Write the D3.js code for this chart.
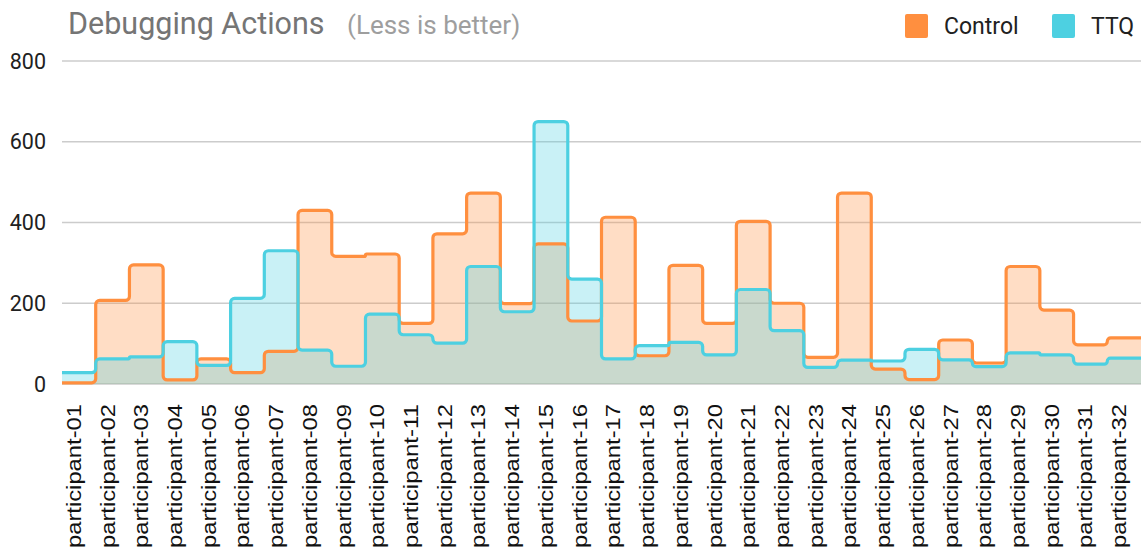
<!DOCTYPE html>
<html>
<head>
<meta charset="utf-8">
<script src="https://cdn.jsdelivr.net/npm/d3@7"></script>
<style>
	body { margin: 0; background: #fff; }
	svg { display: block; }
</style>
</head>
<body>
<div id="chart"></div>
<script>
// chart data
var participants = d3.range(1, 33).map(i => "participant-" + String(i).padStart(2, "0"));
var controlValues = [3, 207, 295, 10, 62, 28, 81, 430, 316, 322, 150, 372, 473, 199, 347, 156,
	413, 70, 294, 150, 403, 200, 66, 473, 37, 11, 109, 52, 291, 183, 97, 114];
var ttqValues = [28, 62, 67, 105, 46, 212, 330, 84, 44, 173, 122, 101, 291, 179, 650, 260,
	62, 95, 103, 72, 234, 132, 41, 59, 57, 86, 60, 43, 77, 72, 49, 64];
var yTicks = [0, 200, 400, 600, 800];
var seriesNames = ["Control", "TTQ"];

var W = 1141, H = 552;
var margin = { top: 61, right: 0, bottom: 168, left: 62 };

var orange = "#ff8f3f", cyan = "#4dd0e1";

var svg = d3.select("#chart")
	.append("svg")
	.attr("width", W)
	.attr("height", H);

var x = d3.scaleBand()
	.domain(participants)
	.range([margin.left, W - margin.right]);

var y = d3.scaleLinear()
	.domain([0, 800])
	.range([H - margin.bottom, margin.top]);

// gridlines
svg.append("g")
	.selectAll("line")
	.data(yTicks)
	.join("line")
	.attr("x1", margin.left)
	.attr("x2", W)
	.attr("y1", d => y(d))
	.attr("y2", d => y(d))
	.attr("stroke", "#cccccc")
	.attr("stroke-width", 1.5);

// y labels
svg.append("g")
	.selectAll("text")
	.data(yTicks)
	.join("text")
	.attr("x", 46)
	.attr("y", d => y(d))
	.attr("dy", "0.36em")
	.attr("text-anchor", "end")
	.attr("font-family", "Roboto")
	.attr("font-size", 21.5)
	.attr("fill", "#212121")
	.text(d => d);

// step points: start of each band, plus end of the last band
function stepPoints(values) {
	var pts = values.map((v, i) => [x(participants[i]), y(v)]);
	pts.push([x.range()[1], y(values[values.length - 1])]);
	return pts;
}

var area = d3.area()
	.x(d => d[0])
	.y0(y(0))
	.y1(d => d[1])
	.curve(d3.curveStepAfter);

// polyline with slightly rounded corners
function roundedStep(values, r) {
	var verts = [];
	values.forEach((v, i) => {
		var x0 = x(participants[i]), x1 = x0 + x.bandwidth();
		if (i == 0) verts.push([x0, y(v)]);
		verts.push([x1, y(v)]);
		if (i < values.length - 1) verts.push([x1, y(values[i + 1])]);
	});
	var p = d3.path();
	p.moveTo(verts[0][0], verts[0][1]);
	for (var i = 1; i < verts.length - 1; i++) {
		var a = verts[i - 1], b = verts[i], c = verts[i + 1];
		var l1 = Math.hypot(b[0] - a[0], b[1] - a[1]);
		var l2 = Math.hypot(c[0] - b[0], c[1] - b[1]);
		var rr = Math.min(r, l1 / 2, l2 / 2);
		if (rr < 0.5) { p.lineTo(b[0], b[1]); continue; }
		p.arcTo(b[0], b[1], c[0], c[1], rr);
	}
	var last = verts[verts.length - 1];
	p.lineTo(last[0], last[1]);
	return p.toString();
}

var series = [
	{ name: "Control", values: controlValues, color: orange },
	{ name: "TTQ", values: ttqValues, color: cyan },
];

svg.append("g")
	.selectAll("path")
	.data(series)
	.join("path")
	.attr("d", d => area(stepPoints(d.values)))
	.attr("fill", d => d.color)
	.attr("fill-opacity", 0.3);

svg.append("g")
	.selectAll("path")
	.data(series)
	.join("path")
	.attr("d", d => roundedStep(d.values, 4))
	.attr("fill", "none")
	.attr("stroke", d => d.color)
	.attr("stroke-width", 3.2)
	.attr("stroke-linejoin", "round");

// x labels
svg.append("g")
	.selectAll("text")
	.data(participants)
	.join("text")
	.attr("transform", d => "translate(" + (x(d) + x.bandwidth() / 2 + 2) + ",404) rotate(-90)")
	.attr("text-anchor", "end")
	.attr("font-family", "Liberation Sans, Arial")
	.attr("font-size", 20)
	.attr("textLength", 144)
	.attr("lengthAdjust", "spacingAndGlyphs")
	.attr("fill", "#111")
	.text(d => d);

// title
svg.append("text")
	.attr("x", 68)
	.attr("y", 34)
	.attr("font-family", "Roboto")
	.attr("font-size", 30.5)
	.attr("fill", "#757575")
	.text("Debugging Actions");

svg.append("text")
	.attr("x", 347)
	.attr("y", 34)
	.attr("font-family", "Roboto")
	.attr("font-size", 26)
	.attr("fill", "#9e9e9e")
	.text("(Less is better)");

// legend
var legendX = [905, 1052];
var legend = svg.append("g")
	.selectAll("g")
	.data(series)
	.join("g")
	.attr("transform", (d, i) => "translate(" + legendX[i] + ",14)");

legend.append("rect")
	.attr("width", 23)
	.attr("height", 24)
	.attr("rx", 2)
	.attr("fill", d => d.color);

legend.append("text")
	.attr("x", 39)
	.attr("y", 20)
	.attr("font-family", "Roboto")
	.attr("font-size", 23)
	.attr("fill", "#212121")
	.text(d => d.name);
</script>
</body>
</html>
